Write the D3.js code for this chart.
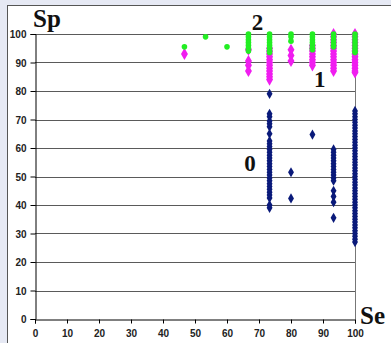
<!DOCTYPE html>
<html><head><meta charset="utf-8">
<script src="https://cdn.jsdelivr.net/npm/d3@7"></script>
<style>html,body{margin:0;padding:0;background:#e6e9f4;}svg{display:block;}</style>
</head><body>
<svg id="c" width="391" height="343"></svg>
<script>
// Data: sensitivity (Se) columns and specificity (Sp) values per group
const xTicks = [0,10,20,30,40,50,60,70,80,90,100];
const yTicks = [0,10,20,30,40,50,60,70,80,90,100];

const group0 = [ // navy diamonds
  [73.3,[79,72,71,69.5,68.5,67.5,65,62.5,61.5,60.5,59.5,58.5,57.5,56.5,55.5,54.5,53.5,52.5,51.5,50.5,49.5,48.5,47.5,46.5,45.5,44.5,43.5,42.5,40,39]],
  [80,[51.5,42.3]],
  [86.7,[64.7]],
  [93.3,[59.5,58.5,57.5,56.5,55.5,54.5,53.5,52.5,51.5,50.5,49.5,48.5,45,43,41,35.5]],
  [100,[73,72,71,70,69,68,67,66,65,64,63,62,61,60,59,58,57,56,55,54,53,52,51,50,49,48,47,46,45,44,43,42,41,40,39,38,37,36,35,34,33,32,31,30,29,28,27]]
];
const group1 = [ // magenta diamonds
  [46.7,[93]],
  [66.7,[94.5,90.5,89,87]],
  [73.3,[95,94,93,92,91,90,89,88,87,86,85,84]],
  [80,[94.5,92.5,90.5]],
  [86.7,[96,95,94,93,92,91,90,89]],
  [93.3,[100,99,98,97,96,95,94,93,92,91,90,89,88,87]],
  [100,[100,99,98,97,96,95,94,93,92,91,90,89,88,87,86.5]]
];
const group2 = [ // green dots
  [46.7,[95.5]],
  [53.3,[99]],
  [60,[95.5]],
  [66.7,[100,99,98,97,96,95,94]],
  [73.3,[100,99,98,97,96,95,94,93.5]],
  [80,[100,99,97.5]],
  [86.7,[100,99,98,97,96,95,94.5]],
  [93.3,[100,99,98,97,96,95.5]],
  [100,[100,99,98,97,96,95,94,93.5]]
];
const groupLabels = [
  {t:"0", x:67.2, y:52},
  {t:"1", x:89, y:81.5},
  {t:"2", x:69.5, y:101.5}
];

const svg = d3.select("#c");
svg.append("rect").attr("x",7.5).attr("y",5.5).attr("width",400).attr("height",400)
  .attr("fill","#fff").attr("stroke","#555").attr("stroke-width",1);

const x = d3.scaleLinear().domain([0,100]).range([35,355]);
const y = d3.scaleLinear().domain([0,100]).range([319,34]);

// gridlines
svg.append("g").selectAll("line").data(yTicks.filter(d=>d>0)).join("line")
  .attr("x1",x(0)).attr("x2",x(100))
  .attr("y1",d=>Math.round(y(d))+0.5).attr("y2",d=>Math.round(y(d))+0.5)
  .attr("stroke","#5a5a5a").attr("stroke-width",1);
// right border
svg.append("line").attr("x1",Math.round(x(100))+0.5).attr("x2",Math.round(x(100))+0.5)
  .attr("y1",Math.round(y(100))+0.5).attr("y2",Math.round(y(0))+0.5)
  .attr("stroke","#777");

// axes
const ax = svg.append("g").attr("transform",`translate(0,${Math.round(y(0))+0.5})`)
  .call(d3.axisBottom(x).tickValues(xTicks).tickSize(4).tickPadding(6).tickFormat(d3.format("d")));
const ay = svg.append("g").attr("transform",`translate(${Math.round(x(0))+0.5},0)`)
  .call(d3.axisLeft(y).tickValues(yTicks).tickSize(5).tickPadding(4).tickFormat(d3.format("d")));
[ax,ay].forEach(a=>{
  a.select(".domain").attr("stroke","#000");
  a.selectAll(".tick line").attr("stroke","#000");
  a.selectAll("text").attr("font-family","Arial, Liberation Sans, sans-serif")
   .attr("font-weight","bold").attr("font-size","10px").attr("fill","#222");
});
ay.selectAll(".tick text").attr("dy","0.35em");

function flat(g){ return g.flatMap(([se,arr])=>arr.map(sp=>({se,sp}))); }

svg.append("g").selectAll("path").data(flat(group0)).join("path")
  .attr("d",d3.symbol().type(d3.symbolDiamond).size(30))
  .attr("transform",d=>`translate(${x(d.se)},${y(d.sp)})`)
  .attr("fill","#0a1a7a");
svg.append("g").selectAll("path").data(flat(group1)).join("path")
  .attr("d",d3.symbol().type(d3.symbolDiamond).size(42))
  .attr("transform",d=>`translate(${x(d.se)},${y(d.sp)})`)
  .attr("fill","#f01df0");
svg.append("g").selectAll("circle").data(flat(group2)).join("circle")
  .attr("cx",d=>x(d.se)).attr("cy",d=>y(d.sp)).attr("r",2.8)
  .attr("fill","#22ee22");

// group labels
svg.append("g").selectAll("text").data(groupLabels).join("text")
  .attr("x",d=>x(d.x)).attr("y",d=>y(d.y))
  .attr("text-anchor","middle")
  .attr("font-family","Liberation Serif, Times New Roman, serif")
  .attr("font-weight","bold").attr("font-size","23px").attr("fill","#111")
  .text(d=>d.t);

// axis titles
svg.append("text").attr("x",33).attr("y",27)
  .attr("font-family","Liberation Serif, Times New Roman, serif")
  .attr("font-weight","bold").attr("font-size","25px").attr("fill","#111").text("Sp");
svg.append("text").attr("x",360).attr("y",324)
  .attr("font-family","Liberation Serif, Times New Roman, serif")
  .attr("font-weight","bold").attr("font-size","25px").attr("fill","#111").text("Se");
</script>
</body></html>
